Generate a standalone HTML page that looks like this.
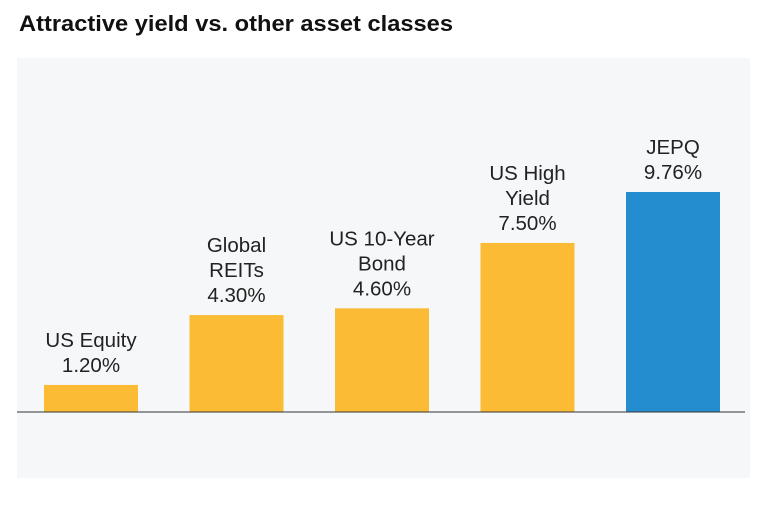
<!DOCTYPE html>
<html><head><meta charset="utf-8"><style>
html,body{margin:0;padding:0;background:#fff;width:780px;height:505px;overflow:hidden}
svg text{font-family:"Liberation Sans",sans-serif}
</style></head><body>
<svg width="780" height="505" viewBox="0 0 780 505">
<text x="19" y="31" font-size="22" font-weight="bold" fill="#111" textLength="434" lengthAdjust="spacingAndGlyphs">Attractive yield vs. other asset classes</text>
<rect x="17" y="58" width="733" height="420" fill="#f6f7f9"/>
<g id="bars"></g>
<line x1="17" y1="412" x2="745" y2="412" stroke="#333" stroke-width="1"/>
</svg>
<script>
const categories = [["US Equity"],["Global","REITs"],["US 10-Year","Bond"],["US High","Yield"],["JEPQ"]];
const values = [1.20, 4.30, 4.60, 7.50, 9.76];
const valueLabels = ["1.20%","4.30%","4.60%","7.50%","9.76%"];
const highlight = [false,false,false,false,true];
const base = 412, pxPerUnit = 220/9.76;
const y = v => base - v*pxPerUnit;
const x = i => 44 + i*145.5;
const bw = 94;
const g = document.getElementById('bars');
const NS = 'http://www.w3.org/2000/svg';
values.forEach((v,i)=>{
  const r = document.createElementNS(NS,'rect');
  r.setAttribute('x', x(i)); r.setAttribute('y', y(v));
  r.setAttribute('width', bw); r.setAttribute('height', base - y(v));
  r.setAttribute('fill', highlight[i] ? '#238dd0' : '#fbbb35');
  
  
  g.appendChild(r);
  const lines = categories[i].concat([valueLabels[i]]);
  const top = y(v) - 13;
  lines.forEach((t,j)=>{
    const tx = document.createElementNS(NS,'text');
    tx.setAttribute('x', x(i)+bw/2);
    tx.setAttribute('y', top - (lines.length-1-j)*25);
    tx.setAttribute('text-anchor','middle');
    tx.setAttribute('font-size','20.5');
    tx.setAttribute('fill','#222');
    tx.textContent = t;
    
    
    g.appendChild(tx);
  });
});
</script>
</body></html>
